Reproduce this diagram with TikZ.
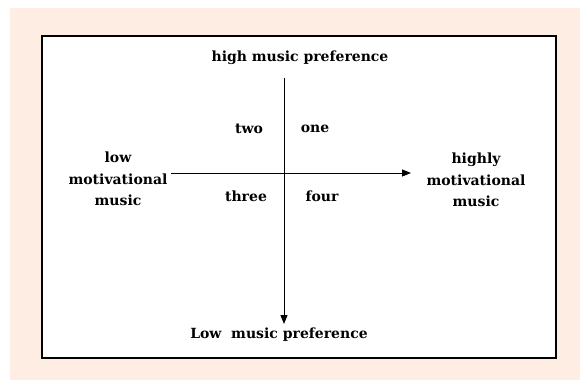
\documentclass[tikz,border=0pt]{standalone}
\usepackage{fontspec}
\setmainfont{DejaVu Serif}
\usetikzlibrary{arrows.meta}
\definecolor{peach}{RGB}{253,237,227}
\begin{document}
\begin{tikzpicture}[x=1pt,y=-1pt,
  lbl/.style={font=\bfseries\fontsize{14}{21.5}\selectfont, inner sep=0pt, align=center},
  axis/.style={line width=1pt, -{Triangle[length=9pt,width=7pt]}}]
\useasboundingbox (0,0) rectangle (580,380);
\fill[peach] (10,8) rectangle (580,380);
\draw[line width=2pt, fill=white] (42,35.5) rectangle (556,358);
\node[lbl] (hi) at (300,58) {high music preference};
\node[lbl] (lo) at (279,335) {Low\ \ music preference};
\node[lbl] (lm) at (118,179) {low\\motivational\\music};
\node[lbl] (hm) at (476,180) {highly\\motivational\\music};
\node[lbl] (two) at (249,129) {two};
\node[lbl] (one) at (315,129) {one};
\node[lbl] (three) at (246,196) {three};
\node[lbl] (four) at (322,196) {four};
\coordinate (vt) at (284,78);
\coordinate (vb) at (284,324);
\coordinate (hl) at (171,173);
\coordinate (hr) at (411,173);
\draw[axis] (vt) -- (vb);
\draw[axis] (hl) -- (hr);
\end{tikzpicture}
\end{document}
